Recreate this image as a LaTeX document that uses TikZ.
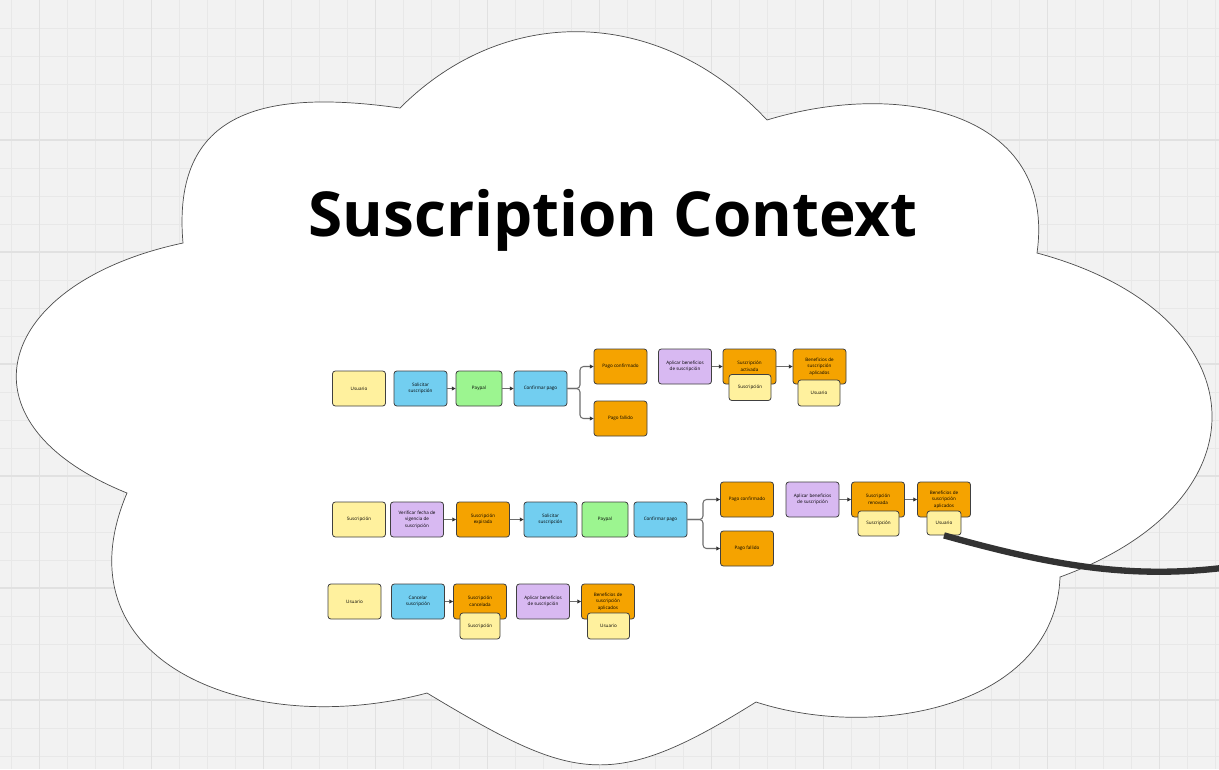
\documentclass[tikz,border=0pt]{standalone}
\usepackage{fontspec}
\setmainfont{Open Sans}
\usetikzlibrary{arrows.meta}
\definecolor{canvasgrey}{HTML}{F2F2F2}
\definecolor{gridthin}{HTML}{E8E8E8}
\definecolor{gridthick}{HTML}{E1E1E1}
\definecolor{stickyyellow}{HTML}{FFF19E}
\definecolor{stickyblue}{HTML}{72CEF0}
\definecolor{stickygreen}{HTML}{9CF590}
\definecolor{stickyorange}{HTML}{F5A300}
\definecolor{stickypurple}{HTML}{D8B9F2}
\definecolor{flowgrey}{HTML}{6E6E6E}
\definecolor{tailgrey}{HTML}{333333}
\tikzset{
  essticky/.style={rectangle, rounded corners=1.6pt, draw=black!75, line width=0.45pt,
                   minimum width=1.06cm, minimum height=0.70cm, inner sep=0pt,
                   align=center, font=\fontsize{2.6}{3.7}\selectfont},
  esactor/.style  ={essticky, fill=stickyyellow},
  escommand/.style={essticky, fill=stickyblue},
  esext/.style    ={essticky, fill=stickygreen, minimum width=0.92cm},
  esevent/.style  ={essticky, fill=stickyorange},
  espolicy/.style ={essticky, fill=stickypurple},
  essub/.style    ={essticky, fill=stickyyellow, minimum width=0.84cm, minimum height=0.52cm},
  esflow/.style   ={-{Triangle[length=2.2pt,width=2.2pt,color=black!80]}, line width=0.6pt, flowgrey},
  cloudline/.style={draw=black!70, line width=0.4pt, fill=white},
  tailline/.style ={line width=3.6pt, tailgrey},
}

\begin{document}
\begin{tikzpicture}[x=0.02cm, y=0.02cm]
  \useasboundingbox (0,0) rectangle (1219,-769);
  \clip (0,0) rectangle (1219,-769);
  % canvas grid
  \fill[canvasgrey] (0,0) rectangle (1219,-769);
  \foreach \gx in {11.3,39.3,...,1219} \draw[gridthin, line width=0.4pt] (\gx,0) -- (\gx,-769);
  \foreach \gy in {28,56,...,760} \draw[gridthin, line width=0.4pt] (0,-\gy) -- (1219,-\gy);
  \foreach \gx in {39.3,151.3,...,1219} \draw[gridthick, line width=0.7pt] (\gx,0) -- (\gx,-769);
  \foreach \gy in {140,252,...,760} \draw[gridthick, line width=0.7pt] (0,-\gy) -- (1219,-\gy);

  % bounded context cloud
  \draw[cloudline] (183,-243)
    to[out=95,in=172,looseness=1.35] (400,-108)
    to[out=45,in=133,looseness=1.06] (767,-120)
    to[out=17,in=82,looseness=1.2] (1037,-253)
    to[out=-15,in=20,looseness=1.8] (1060,-577)
    to[out=-92,in=-18,looseness=1] (756,-702)
    to[out=212,in=-31,looseness=1.33] (427,-693)
    to[out=195,in=247,looseness=1.3] (127,-493)
    to[out=158,in=192,looseness=1.9] (183,-243) -- cycle;

  \node[font=\fontsize{35.3}{40}\selectfont\bfseries, anchor=base] (title) at (613,-236.7) {Suscription Context};

  % row 1: subscribe
  \node[esactor]   (usr1)  at (359,-388.5)   {Usuario};
  \node[escommand] (sol1)  at (420.5,-388.5) {Solicitar\\suscripción};
  \node[esext]     (pay1)  at (479,-388.5)   {Paypal};
  \node[escommand] (conf1) at (540.5,-388.5) {Confirmar pago};
  \node[esevent]   (ok1)   at (620.5,-366.5) {Pago confirmado};
  \node[esevent]   (fail1) at (620.5,-418.5) {Pago fallido};
  \node[espolicy]  (apl1)  at (685,-366.5)   {Aplicar beneficios\\de suscripción};
  \node[esevent]   (act1)  at (749.5,-366.5) {Suscripción\\activada};
  \node[essub]     (susb1) at (750,-387.5)   {Suscripción};
  \node[esevent]   (ben1)  at (819.5,-366.5) {Beneficios de\\suscripción\\aplicados};
  \node[essub]     (usrb1) at (819,-393)     {Usuario};
  \coordinate (split1) at (580,-388.5);
  \draw[esflow] (sol1) -- (pay1);
  \draw[esflow] (pay1) -- (conf1);
  \draw[esflow, rounded corners=2pt] (conf1.east) -- (split1) |- (ok1.west);
  \draw[esflow, rounded corners=2pt] (conf1.east) -- (split1) |- (fail1.west);
  \draw[esflow] (apl1) -- (act1);
  \draw[esflow] (act1) -- (ben1);

  % row 2: renew
  \node[esactor]   (sus2)  at (359,-519.5)   {Suscripción};
  \node[espolicy]  (ver2)  at (417,-519.5)   {Verificar fecha de\\vigencia de\\suscripción};
  \node[esevent]   (exp2)  at (483,-519.5)   {Suscripción\\expirada};
  \node[escommand] (sol2)  at (550.5,-519.5) {Solicitar\\suscripción};
  \node[esext]     (pay2)  at (605,-519.5)   {Paypal};
  \node[escommand] (conf2) at (660.5,-519.5) {Confirmar pago};
  \node[esevent]   (ok2)   at (747,-499.5)   {Pago confirmado};
  \node[esevent]   (fail2) at (747,-548.5)   {Pago fallido};
  \node[espolicy]  (apl2)  at (812.5,-499.5) {Aplicar beneficios\\de suscripción};
  \node[esevent]   (ren2)  at (878,-499.5)   {Suscripción\\renovada};
  \node[essub, minimum width=0.82cm, minimum height=0.50cm] (susb2) at (878.5,-523.5) {Suscripción};
  \node[esevent]   (ben2)  at (944,-499.5)   {Beneficios de\\suscripción\\aplicados};
  \node[essub, minimum width=0.68cm, minimum height=0.48cm] (usrb2) at (944,-523) {Usuario};
  \coordinate (split2) at (703,-519.5);
  \draw[esflow] (ver2) -- (exp2);
  \draw[esflow] (exp2) -- (sol2);
  \draw[esflow, rounded corners=2pt] (conf2.east) -- (split2) |- (ok2.west);
  \draw[esflow, rounded corners=2pt] (conf2.east) -- (split2) |- (fail2.west);
  \draw[esflow] (apl2) -- (ren2);
  \draw[esflow] (ren2) -- (ben2);

  % row 3: cancel
  \node[esactor]   (usr3)  at (354.5,-601.5) {Usuario};
  \node[escommand] (can3)  at (418,-601.5)   {Cancelar\\suscripción};
  \node[esevent]   (canc3) at (480,-601.5)   {Suscripción\\cancelada};
  \node[essub, minimum width=0.80cm] (susb3) at (480,-626) {Suscripción};
  \node[espolicy]  (apl3)  at (543,-601.5)   {Aplicar beneficios\\de suscripción};
  \node[esevent]   (ben3)  at (608,-601.5)   {Beneficios de\\suscripción\\aplicados};
  \node[essub]     (usrb3) at (608.5,-626)   {Usuario};
  \draw[esflow] (can3) -- (canc3);
  \draw[esflow] (apl3) -- (ben3);

  % link leaving the context
  \coordinate (tailend) at (1230,-567);
  \draw[tailline] (usrb2.south) .. controls (1050,-565) and (1130,-580) .. (tailend);
\end{tikzpicture}
\end{document}
